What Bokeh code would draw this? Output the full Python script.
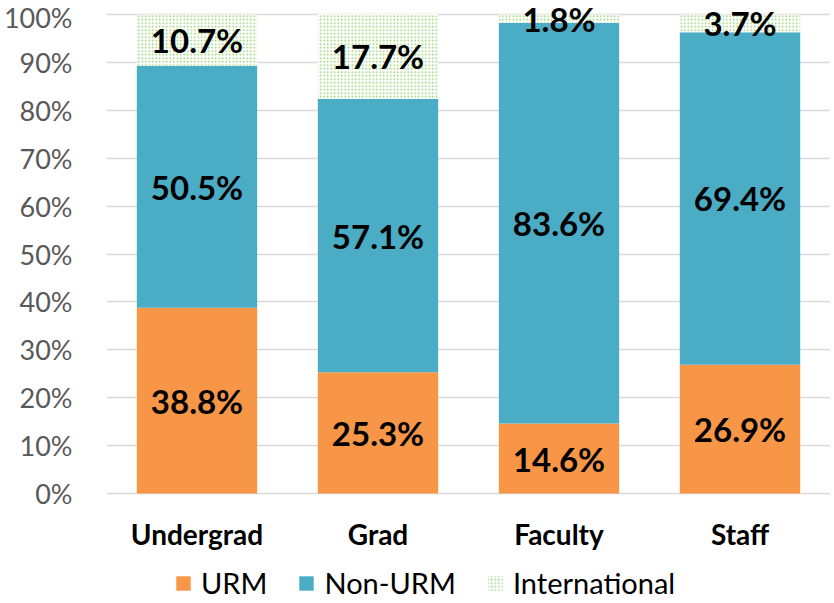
from bokeh.plotting import figure
from bokeh.models import ColumnDataSource, Range1d, NumeralTickFormatter, Legend, LegendItem, FixedTicker
from bokeh.embed import file_html
from bokeh.resources import INLINE
from bokeh.core.properties import value

categories = ["Undergrad", "Grad", "Faculty", "Staff"]
urm = [38.8, 25.3, 14.6, 26.9]
non_urm = [50.5, 57.1, 83.6, 69.4]
international = [10.7, 17.7, 1.8, 3.7]

FONT = "Lato"
src = ColumnDataSource(dict(
    cat=categories,
    urm=[v / 100 for v in urm],
    non=[v / 100 for v in non_urm],
    intl=[v / 100 for v in international],
))

W, H = 830, 600
LEFT = 103
PX = 479.0          # pixels for 0..100%
TOP_PX = 14         # gap above 100%
BOT_PX = H - 493    # gap below 0%

p = figure(x_range=categories,
           y_range=Range1d(-BOT_PX / PX, 1 + TOP_PX / PX),
           width=W, height=H, output_backend="svg", toolbar_location=None,
           min_border_left=LEFT, min_border_right=0, min_border_top=0, min_border_bottom=0)

r = p.vbar_stack(["urm", "non", "intl"], x="cat", width=0.665, source=src,
                 color=["#f79646", "#4bacc6", "white"], line_color=None)
r[2].glyph.hatch_pattern = "dot"
r[2].glyph.hatch_color = "#8fcc63"
r[2].glyph.hatch_scale = 3.5
r[2].glyph.hatch_weight = 2

# value labels
lx, ly, lt = [], [], []
for c, a, b, d in zip(categories, urm, non_urm, international):
    for base, v in ((0, a), (a, b), (a + b, d)):
        lx.append(c)
        ly.append((base + v / 2) / 100)
        lt.append(f"{v:.1f}%")
ls = ColumnDataSource(dict(x=lx, y=ly, t=lt))
p.text(x="x", y="y", text="t", source=ls, text_align="center", text_baseline="middle",
       text_font=value(FONT), text_font_style="bold", text_font_size="33px", text_color="black")

# category labels
cs = ColumnDataSource(dict(x=categories, y=[-40 / PX] * len(categories), t=categories))
p.text(x="x", y="y", text="t", source=cs, text_align="center", text_baseline="middle",
       text_font=value(FONT), text_font_style="bold", text_font_size="28px", text_color="black")

p.yaxis.ticker = FixedTicker(ticks=[i / 10 for i in range(11)])
p.yaxis.formatter = NumeralTickFormatter(format="0%")
p.yaxis.axis_line_color = None
p.yaxis.major_tick_line_color = None
p.yaxis.minor_tick_line_color = None
p.yaxis.major_label_text_font = FONT
p.yaxis.major_label_text_font_size = "27px"
p.yaxis.major_label_text_color = "#595959"
p.yaxis.major_label_standoff = 28

p.xaxis.visible = False
p.xgrid.grid_line_color = None
p.ygrid.grid_line_color = "#d9d9d9"
p.ygrid.grid_line_width = 1.5
p.outline_line_color = None

legend = Legend(items=[LegendItem(label="URM", renderers=[r[0]]),
                       LegendItem(label="Non-URM", renderers=[r[1]]),
                       LegendItem(label="International", renderers=[r[2]])],
                orientation="horizontal", location=(68, 0),
                label_text_font=FONT, label_text_font_size="29px", label_text_color="black",
                glyph_width=18, glyph_height=18, label_standoff=9, spacing=30,
                margin=0, padding=2, border_line_color=None, background_fill_alpha=0)
p.add_layout(legend, "center")

open("out.html", "w").write(file_html(p, INLINE))
